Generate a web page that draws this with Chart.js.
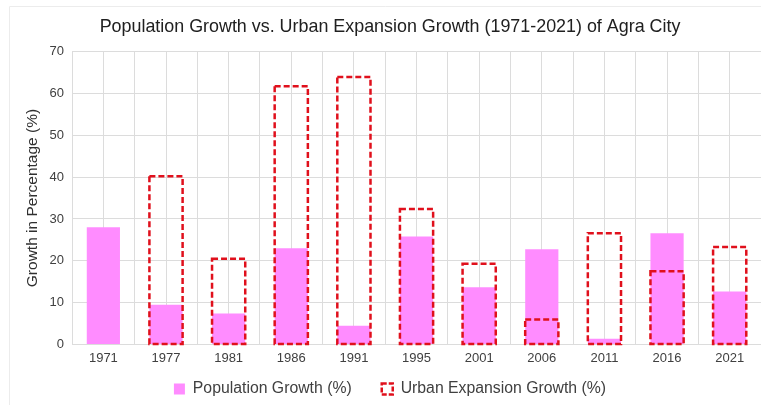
<!DOCTYPE html>
<html>
<head>
<meta charset="utf-8">
<script src="https://cdn.jsdelivr.net/npm/chart.js@4"></script>
<style>
  html, body { margin: 0; padding: 0; background: #fff; }
  #wrap { width: 761px; height: 405px; }
</style>
</head>
<body>
<div id="wrap"><canvas id="growthChart" width="761" height="405"></canvas></div>
<script>
// --- Données ---
const years = ['1971', '1977', '1981', '1986', '1991', '1995', '2001', '2006', '2011', '2016', '2021'];
const populationGrowth = [28.0, 9.5, 7.4, 23.0, 4.5, 25.8, 13.7, 22.8, 1.4, 26.6, 12.7];
const urbanGrowth = [null, 40.2, 20.5, 61.7, 63.9, 32.4, 19.3, 6.0, 26.6, 17.5, 23.3];
const yTicks = [0, 10, 20, 30, 40, 50, 60, 70];

const gridColor = '#dcdcdc';
const textColor = '#404040';
const urbanRed = '#e0101c';
const popPink = '#ff8cff';

// --- Contours pointillés des barres "Urban" (Chart.js ne gère pas borderDash sur les barres) ---
const dashedBars = {
    id: 'dashedBars',
    beforeDraw(chart) {
        // cadre très clair autour du graphique
        const c = chart.ctx;
        c.save();
        c.strokeStyle = '#ececec';
        c.lineWidth = 1;
        c.beginPath();
        c.moveTo(9.5, chart.height);
        c.lineTo(9.5, 6.5);
        c.lineTo(chart.width, 6.5);
        c.stroke();
        c.restore();
    },
    afterLayout(chart) {
        // remonte la légende vers les étiquettes de l'axe X
        const lg = chart.legend;
        if (lg) {
            lg.top -= 21;
            lg.bottom -= 21;
        }
    },
    afterDatasetsDraw(chart) {
        const meta = chart.getDatasetMeta(0);
        const c = chart.ctx;
        c.save();
        c.strokeStyle = urbanRed;
        c.lineWidth = 2.5;
        c.setLineDash([6, 3]);
        meta.data.forEach((bar, i) => {
            if (urbanGrowth[i] == null) return;
            const p = bar.getProps(['x', 'y', 'base', 'width'], true);
            c.strokeRect(p.x - p.width / 2, p.y, p.width, p.base - p.y);
        });
        c.restore();
    }
};

const ctx = document.getElementById('growthChart').getContext('2d');
new Chart(ctx, {
    type: 'bar',
    data: {
        labels: years,
        datasets: [
            {
                label: 'Urban Expansion Growth (%)',
                data: urbanGrowth,
                backgroundColor: 'rgba(0,0,0,0)',
                borderColor: urbanRed,
                borderWidth: 0,
                grouped: false,
                categoryPercentage: 0.53,
                barPercentage: 1,
                order: 0
            },
            {
                label: 'Population Growth (%)',
                data: populationGrowth,
                backgroundColor: popPink,
                borderColor: popPink,
                borderWidth: 0,
                grouped: false,
                categoryPercentage: 0.53,
                barPercentage: 1,
                order: 1
            }
        ]
    },
    plugins: [dashedBars],
    options: {
        responsive: false,
        animation: false,
        layout: { padding: { left: 19, right: 0, top: 8, bottom: -23 } },
        plugins: {
            title: {
                display: true,
                text: 'Population Growth vs. Urban Expansion Growth (1971-2021) of Agra City',
                color: '#202020',
                font: { family: 'Liberation Sans', size: 17.9, weight: 'normal' },
                padding: { top: 8, bottom: 14 }
            },
            legend: {
                position: 'bottom',
                reverse: true,
                labels: {
                    color: textColor,
                    font: { family: 'Liberation Sans', size: 15.8 },
                    boxWidth: 11,
                    boxHeight: 11,
                    padding: 30,
                    generateLabels: chart => {
                        const items = Chart.defaults.plugins.legend.labels.generateLabels(chart);
                        items.forEach(item => {
                            if (item.datasetIndex === 0) {
                                item.fillStyle = '#ffffff';
                                item.strokeStyle = urbanRed;
                                item.lineWidth = 2.5;
                                item.lineDash = [5, 2];
                            }
                        });
                        return items;
                    }
                }
            },
            tooltip: { enabled: false }
        },
        scales: {
            x: {
                grid: { color: gridColor, offset: true, drawTicks: false },
                border: { display: false },
                ticks: {
                    color: textColor,
                    font: { family: 'Liberation Sans', size: 13 },
                    padding: 6
                }
            },
            x2: {
                type: 'category',
                labels: years,
                offset: true,
                grid: { color: gridColor, offset: false, drawTicks: false },
                border: { display: false },
                ticks: { display: false }
            },
            y: {
                min: 0,
                max: 70,
                afterBuildTicks: axis => {
                    axis.ticks = yTicks.map(v => ({ value: v }));
                },
                grid: { color: gridColor, drawTicks: false },
                border: { display: false },
                ticks: {
                    color: textColor,
                    font: { family: 'Liberation Sans', size: 13 },
                    padding: 8
                },
                title: {
                    display: true,
                    text: 'Growth in Percentage (%)',
                    color: '#303030',
                    font: { family: 'Liberation Sans', size: 15.5 },
                    padding: { top: 4, bottom: 0 }
                }
            }
        }
    }
});
</script>
</body>
</html>
